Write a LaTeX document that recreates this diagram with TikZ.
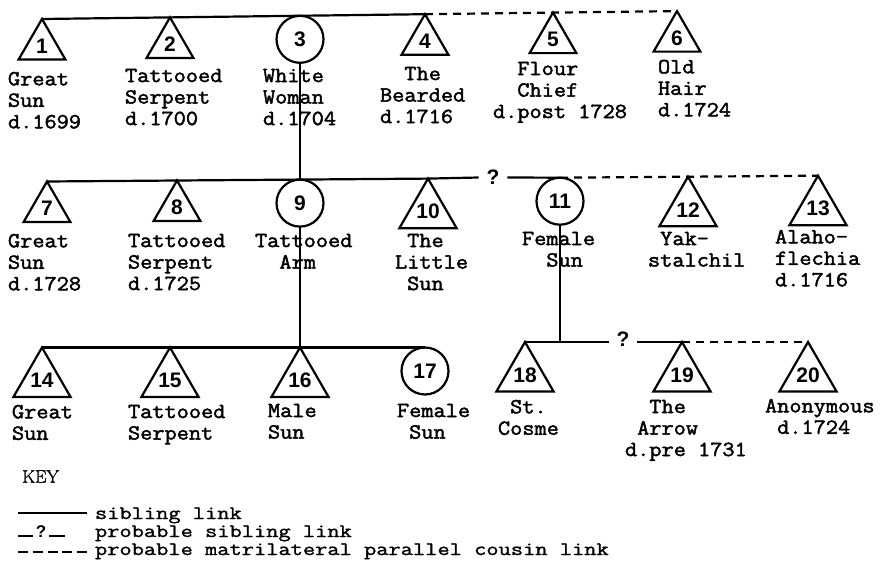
\documentclass[tikz,border=0pt]{standalone}
\usepackage{fontspec}
\newfontfamily\numfont{Liberation Sans}
\newfontfamily\twfont{Latin Modern Mono}[FakeStretch=1.1, FakeBold=2]
\newfontfamily\keyfont{Latin Modern Mono}[FakeStretch=1.25, FakeBold=1.5]
\newfontfamily\keyhead{Latin Modern Roman}[FakeBold=1.5]
\usetikzlibrary{shapes.geometric}
\tikzset{
  ln/.style={line width=2.2bp},
  cousin/.style={line width=2.2bp, dash pattern=on 8bp off 6bp},
  keyln/.style={line width=2bp},
  numf/.style={font=\numfont\bfseries\fontsize{21bp}{21bp}\selectfont},
  tri/.style={regular polygon, regular polygon sides=3, draw, line width=2.2bp,
    minimum size=54bp, inner sep=0pt, outer sep=0pt, numf, anchor=north},
  circ/.style={circle, draw, line width=2.2bp, minimum size=47bp,
    inner sep=0pt, outer sep=0pt, numf, anchor=north},
  lab/.style={font=\twfont\fontsize{21.5bp}{21.5bp}\selectfont, align=left,
    inner sep=0pt, outer sep=0pt, anchor=north west},
  keytxt/.style={font=\keyfont\fontsize{19bp}{19bp}\selectfont,
    inner sep=0pt, outer sep=0pt, anchor=base west},
  qm/.style={numf, inner xsep=8bp, inner ysep=0pt, outer sep=0pt},
}
\begin{document}
\begin{tikzpicture}[x=1bp,y=-1bp]
\useasboundingbox (0,0) rectangle (883,563);
% ---------- row 1
\node[tri]  (t1) at (42,19)    {1};
\node[tri]  (t2) at (170,17.4) {2};
\node[circ] (c3) at (300,15.8) {3};
\node[tri]  (t4) at (425,14.2) {4};
\node[tri]  (t5) at (553,12.6) {5};
\node[tri]  (t6) at (677,11.1) {6};
\draw[ln] (t1.north) -- (t4.north);
\draw[cousin] (t4.north) -- (t6.north);
% ---------- row 2
\node[tri]  (t7)  at (47,181.5)  {7};
\node[tri]  (t8)  at (177,180.5) {8};
\node[circ] (c9)  at (300,179.6) {9};
\node[tri]  (t10) at (428,178.6) {10};
\node[qm]   (q1)  at (493,177.5) {?};
\node[circ] (c11) at (560,177.7) {11};
\node[tri]  (t12) at (688,176.7) {12};
\node[tri]  (t13) at (818,175.7) {13};
\draw[ln] (t7.north) -- (t10.north) -- (q1.west);
\draw[ln] (q1.east) -- (c11.north);
\draw[cousin] (c11.north) -- (t13.north);
\draw[ln] (c3.south) -- (c9.north);
% ---------- row 3
\node[tri]  (t14) at (42,347.5)  {14};
\node[tri]  (t15) at (170,347.5) {15};
\node[tri]  (t16) at (300,347.5) {16};
\node[circ] (c17) at (425,347.5) {17};
\draw[ln] (t14.north) -- (c17.north);
\draw[ln] (c9.south) -- (t16.north);
\node[tri]  (t18) at (525,342) {18};
\node[qm]   (q2)  at (623,339) {?};
\node[tri]  (t19) at (682,342) {19};
\node[tri]  (t20) at (808,342) {20};
\coordinate (j2) at (560,342);
\draw[ln] (t18.north) -- (t18.north -| q2.west);
\draw[ln] (t19.north -| q2.east) -- (t19.north);
\draw[cousin] (t19.north) -- (t20.north);
\draw[ln] (c11.south) -- (j2);
% ---------- labels
\node[lab] (l1)  at (8,71.9)    {Great\\Sun\\d.1699};
\node[lab] (l2)  at (125,68.9)  {Tattooed\\Serpent\\d.1700};
\node[lab] (l3)  at (263,68.9)  {White\\Woman\\d.1704};
\node[lab] (l4)  at (380,66.9)  {~~The\\Bearded\\d.1716};
\node[lab] (l5)  at (493,61.9)  {~~Flour\\~~Chief\\d.post 1728};
\node[lab] (l6)  at (658,59.9)  {Old\\Hair\\d.1724};
\node[lab] (l7)  at (8,233.9)   {Great\\Sun\\d.1728};
\node[lab] (l8)  at (128,233.9) {Tattooed\\Serpent\\d.1725};
\node[lab] (l9)  at (255,233.9) {Tattooed\\~~Arm};
\node[lab] (l10) at (395,233.9) {~The\\Little\\~Sun};
\node[lab] (l11) at (522,231.9) {Female\\~~Sun};
\node[lab] (l12) at (648,231.9) {~Yak-\\stalchil};
\node[lab] (l13) at (775,229.9) {Alaho-\\flechia\\d.1716};
\node[lab] (l14) at (12,404.9)  {Great\\Sun};
\node[lab] (l15) at (128,404.9) {Tattooed\\Serpent};
\node[lab] (l16) at (268,403.9) {Male\\Sun};
\node[lab] (l17) at (397,403.9) {Female\\~Sun};
\node[lab] (l18) at (498,399.9) {~St.\\Cosme};
\node[lab] (l19) at (625,399.9) {~~The\\~Arrow\\d.pre 1731};
\node[lab] (l20) at (765,398.9) {Anonymous\\~d.1724};
% ---------- key
\node[font=\keyhead\fontsize{18bp}{18bp}\selectfont, inner sep=0pt, anchor=west] (key) at (22,476.5) {KEY};
\coordinate (k1a) at (18,513);
\coordinate (k1b) at (87,513);
\draw[keyln] (k1a) -- (k1b);
\node[keytxt] (k1) at (95,519) {sibling link};
\node[font=\numfont\bfseries\fontsize{17bp}{17bp}\selectfont, inner xsep=3bp, inner ysep=0pt, outer sep=0pt] (kq) at (41,532) {?};
\coordinate (k2a) at (18,535.5);
\coordinate (k2b) at (65,535.5);
\draw[keyln] (k2a) -- (k2a -| kq.west);
\draw[keyln] (kq.east |- k2b) -- (k2b);
\node[keytxt] (k2) at (95,537) {probable sibling link};
\coordinate (k3a) at (18,552);
\coordinate (k3b) at (87,552);
\draw[keyln, dash pattern=on 10bp off 4.8bp] (k3a) -- (k3b);
\node[keytxt] (k3) at (95,555) {probable matrilateral parallel cousin link};
\end{tikzpicture}
\end{document}
